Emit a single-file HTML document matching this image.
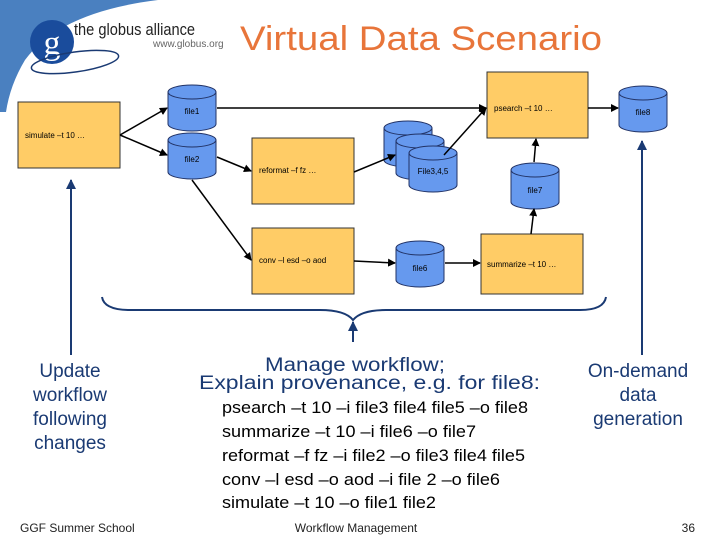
<!DOCTYPE html>
<html><head><meta charset="utf-8"><style>
html,body{margin:0;padding:0;background:#fff;}
svg{display:block;}
</style></head><body>
<svg width="720" height="540" viewBox="0 0 720 540" xmlns="http://www.w3.org/2000/svg" font-family="Liberation Sans, sans-serif">
<defs>
<marker id="a" markerWidth="8" markerHeight="8" refX="7" refY="4" orient="auto" markerUnits="userSpaceOnUse"><path d="M0,0 L8,4 L0,8 z" fill="#000"/></marker>
<marker id="b" markerWidth="10" markerHeight="10" refX="9" refY="5" orient="auto" markerUnits="userSpaceOnUse"><path d="M0,0 L10,5 L0,10 z" fill="#1a3a73"/></marker>
<g id="cyl">
<path d="M0,8 L0,40 A24,7 0 0 0 48,40 L48,8" fill="#6699ee" stroke="#223366" stroke-width="1"/>
<ellipse cx="24" cy="8" rx="24" ry="7" fill="#6699ee" stroke="#223366" stroke-width="1"/>
</g>
</defs>
<!-- logo swoosh -->
<path d="M0,0 L158,0 Q60,12 25,60 Q10,85 6,112 L0,112 z" fill="#4a80c0"/>
<circle cx="52" cy="42" r="22" fill="#1a4c9c"/>
<text x="52" y="54" font-family="Liberation Serif, serif" font-size="34" fill="#fff" text-anchor="middle">g</text>
<ellipse cx="75" cy="62" rx="44" ry="10" fill="none" stroke="#1a3a73" stroke-width="1.5" transform="rotate(-8 75 62)"/>
<text x="74" y="35" font-size="17" fill="#222" textLength="121" lengthAdjust="spacingAndGlyphs">the globus alliance</text>
<text x="153" y="47" font-size="10" fill="#666">www.globus.org</text>
<text x="240" y="50" font-size="34" fill="#e8753a" textLength="362" lengthAdjust="spacingAndGlyphs">Virtual Data Scenario</text>

<!-- boxes -->
<g fill="#ffcc66" stroke="#333" stroke-width="1">
<rect x="18" y="102" width="102" height="66"/>
<rect x="252" y="138" width="102" height="66"/>
<rect x="252" y="228" width="102" height="66"/>
<rect x="481" y="234" width="102" height="60"/>
<rect x="487" y="72" width="101" height="66"/>
</g>
<g font-size="8" fill="#000">
<text x="25" y="138">simulate  –t 10 …</text>
<text x="259" y="173">reformat  –f fz …</text>
<text x="259" y="263">conv  –l esd –o aod</text>
<text x="487" y="267">summarize  –t 10 …</text>
<text x="494" y="111">psearch  –t 10 …</text>
</g>
<!-- cylinders -->
<use href="#cyl" x="168" y="84"/>
<use href="#cyl" x="168" y="132"/>
<use href="#cyl" x="619" y="85"/>
<use href="#cyl" x="511" y="162"/>
<use href="#cyl" x="396" y="240"/>
<use href="#cyl" x="384" y="120"/>
<use href="#cyl" x="396" y="133"/>
<use href="#cyl" x="409" y="145"/>
<g font-size="8" fill="#000" text-anchor="middle">
<text x="192" y="114">file1</text>
<text x="192" y="162">file2</text>
<text x="643" y="115">file8</text>
<text x="535" y="193">file7</text>
<text x="420" y="271">file6</text>
<text x="433" y="174">File3,4,5</text>
</g>
<!-- arrows -->
<g stroke="#000" stroke-width="1.5" fill="none" marker-end="url(#a)">
<line x1="217" y1="108" x2="486" y2="108"/>
<line x1="444" y1="155" x2="486" y2="108"/>
<line x1="534" y1="162" x2="536" y2="139"/>
<line x1="531" y1="234" x2="534" y2="209"/>
<line x1="588" y1="108" x2="618" y2="108"/>
<line x1="120" y1="135" x2="167" y2="108"/>
<line x1="120" y1="135" x2="167" y2="155"/>
<line x1="217" y1="157" x2="251" y2="171"/>
<line x1="354" y1="172" x2="395" y2="155"/>
<line x1="192" y1="180" x2="251" y2="260"/>
<line x1="354" y1="261" x2="395" y2="263"/>
<line x1="445" y1="263" x2="480" y2="263"/>
</g>
<!-- blue arrows & brace -->
<g stroke="#1a3a73" stroke-width="2" fill="none">
<line x1="71" y1="355" x2="71" y2="180" marker-end="url(#b)"/>
<line x1="642" y1="355" x2="642" y2="141" marker-end="url(#b)"/>
<line x1="353" y1="342" x2="353" y2="322" marker-end="url(#b)"/>
<path d="M102,297 Q104,310 130,310 L320,310 Q345,310 353,320 Q361,310 386,310 L580,310 Q604,310 606,297"/>
</g>
<g fill="#1a3a73" font-size="19" text-anchor="middle">
<text x="70" y="377">Update</text>
<text x="70" y="401">workflow</text>
<text x="70" y="425">following</text>
<text x="70" y="449">changes</text>
<text x="638" y="377">On-demand</text>
<text x="638" y="401">data</text>
<text x="638" y="425">generation</text>
</g>
<g fill="#1a3a73" font-size="19">
<text x="265" y="371" textLength="180" lengthAdjust="spacingAndGlyphs">Manage workflow;</text>
<text x="199" y="389" textLength="341" lengthAdjust="spacingAndGlyphs">Explain provenance, e.g. for file8:</text>
</g>
<g fill="#000" font-size="17">
<text x="222" y="413" textLength="306" lengthAdjust="spacingAndGlyphs">psearch –t 10 –i file3 file4 file5 –o file8</text>
<text x="222" y="437" textLength="254" lengthAdjust="spacingAndGlyphs">summarize –t 10 –i file6 –o file7</text>
<text x="222" y="461" textLength="303" lengthAdjust="spacingAndGlyphs">reformat –f fz –i file2 –o file3 file4 file5</text>
<text x="222" y="485" textLength="278" lengthAdjust="spacingAndGlyphs">conv –l esd –o aod –i file 2 –o file6</text>
<text x="222" y="508" textLength="214" lengthAdjust="spacingAndGlyphs">simulate –t 10 –o file1 file2</text>
</g>
<g fill="#222" font-size="12">
<text x="20" y="532">GGF Summer School</text>
<text x="356" y="532" text-anchor="middle">Workflow Management</text>
<text x="695" y="532" text-anchor="end">36</text>
</g>
</svg>
</body></html>
